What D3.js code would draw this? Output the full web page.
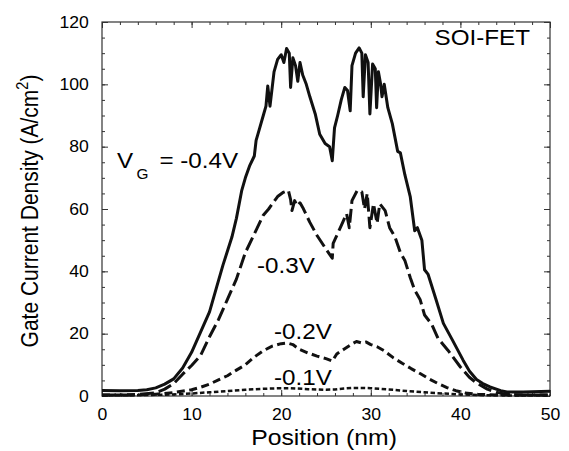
<!DOCTYPE html>
<html>
<head>
<meta charset="utf-8">
<script src="https://cdn.jsdelivr.net/npm/d3@7/dist/d3.min.js"></script>
<style>
  html, body { margin: 0; padding: 0; background: #fff; }
  svg { display: block; font-family: "Liberation Sans", Arial, Helvetica, sans-serif; }
</style>
</head>
<body>
<svg id="chart" width="569" height="451"></svg>
<script>
// Gate current density profiles along the channel of an SOI-FET
const xTicks = [0, 10, 20, 30, 40, 50];
const yTicks = [0, 20, 40, 60, 80, 100, 120];

// V_G = -0.4 V
const pos04 = [0, 2, 4, 5, 6, 7, 8, 9, 10, 11, 12, 12.8, 13.5, 14.5, 15, 15.6, 16, 16.5, 17, 17.2, 17.5, 18, 18.3, 18.5, 18.75, 19.2, 19.6, 20, 20.3, 20.6, 20.9, 21.05, 21.3, 21.6, 21.85, 22.1, 22.4, 22.8, 23.2, 23.8, 24.3, 24.9, 25.4, 25.7, 25.95, 26.3, 26.7, 27.1, 27.4, 27.7, 27.9, 28.3, 28.7, 29.0, 29.15, 29.4, 29.7, 29.9, 30.2, 30.5, 30.65, 30.85, 31.1, 31.25, 31.5, 31.9, 32.4, 33, 33.3, 33.8, 34.4, 34.9, 35.2, 35.7, 36, 36.4, 37.2, 38.1, 39.1, 40.3, 41, 41.8, 42.5, 43.3, 44.5, 45.2, 47, 50];
const val04 = [1.8, 1.7, 1.8, 2.0, 2.6, 3.8, 5.5, 9.0, 14, 20.5, 27, 35, 42, 51, 57, 66, 70, 74, 77, 82, 85, 90, 93, 99.5, 93, 104, 108, 109.5, 107, 111.5, 110, 99, 108.5, 106, 101, 107, 103, 100, 96, 90.5, 84, 81, 80, 75.5, 86, 90, 95, 99, 98, 91.5, 106, 110, 111.7, 110, 96, 109.5, 107, 90.5, 106.5, 105, 92.5, 104, 100, 96, 100, 92.5, 87.4, 78.5, 78, 71, 64, 53, 54, 50, 40.5, 39, 31.7, 23.3, 18, 11.5, 8, 5.3, 4, 2.9, 1.7, 1.3, 1.3, 1.5];

// V_G = -0.3 V
const pos03 = [0, 3, 6, 7, 8, 9, 10, 11, 12, 13, 14, 15, 16, 17, 18, 18.6, 19.1, 19.6, 20.2, 20.8, 21.05, 21.2, 21.5, 21.8, 22.1, 22.4, 23.2, 24, 25.1, 25.7, 25.8, 26.6, 27.3, 27.6, 27.9, 28.5, 29.0, 29.3, 29.6, 29.9, 30.3, 30.7, 31, 31.6, 32.1, 32.7, 33.3, 33.8, 34.4, 34.9, 35.5, 36, 36.8, 37.5, 38.6, 40, 41, 41.8, 43, 44, 45, 47, 50];
const val03 = [0.3, 0.3, 1.0, 2.2, 4.0, 7, 9.8, 13, 19, 24.5, 31, 37.5, 46, 52, 58, 60, 62, 64, 65.3, 66, 63, 59.5, 62.7, 61, 62, 60.5, 55.7, 51.5, 46.7, 44.2, 49, 54, 58.5, 54, 62.7, 66, 65.5, 60, 65, 54, 61.7, 55.4, 61.7, 59.5, 54, 51, 46, 43.5, 38, 34, 31, 26, 23, 18.5, 14.7, 9.3, 6, 4.2, 2.2, 1.2, 0.6, 0.3, 0.3];

// V_G = -0.2 V
const pos02 = [0, 4, 6, 8, 10, 11, 12, 13, 14, 15, 16, 17, 18, 19, 20, 20.7, 21.3, 22, 23, 24, 25, 25.7, 26.2, 27, 27.8, 28.4, 29, 29.5, 30, 30.7, 31.5, 32.5, 33.5, 34.5, 35.5, 36.5, 37.5, 38.5, 39.5, 40.5, 42, 45, 50];
const val02 = [0.3, 0.4, 0.6, 1.1, 2.0, 2.8, 3.8, 5.2, 6.5, 8.3, 10, 12.5, 14.5, 16, 16.8, 17, 16.5, 15, 13.8, 12.8, 12, 11.2, 13.5, 15, 16.5, 17.5, 17, 17.3, 16.5, 15.8, 14.5, 12.3, 10.5, 8.8, 7.2, 5.5, 4, 2.7, 1.7, 1.0, 0.5, 0.3, 0.3];

// V_G = -0.1 V
const pos01 = [0, 5, 8, 10, 12, 14, 16, 18, 20, 21, 23, 25, 26, 27, 28, 29, 30, 32, 34, 36, 38, 40, 42, 45, 50];
const val01 = [0.2, 0.3, 0.5, 0.8, 1.2, 1.6, 2.0, 2.3, 2.5, 2.5, 2.2, 2.0, 2.1, 2.4, 2.6, 2.6, 2.5, 2.1, 1.6, 1.2, 0.8, 0.5, 0.3, 0.2, 0.2];

const series = [
  { pos: pos04, val: val04, width: 3, dash: null },
  { pos: pos03, val: val03, width: 3, dash: "14,5" },
  { pos: pos02, val: val02, width: 3, dash: "8,4.5" },
  { pos: pos01, val: val01, width: 2.5, dash: "4.5,2.5" }
];

const svg = d3.select("#chart");
const plotL = 102, plotR = 550, plotT = 22, plotB = 396;
const stretch = 1.1; // glyphs are drawn slightly wide

const x = d3.scaleLinear().domain([0, 50]).range([plotL, plotR]);
const y = d3.scaleLinear().domain([0, 120]).range([plotB, plotT]);

const axisColor = "#333";
const axes = svg.append("g").attr("class", "axes");

function styleAxis(g) {
  g.select(".domain").remove();
  g.selectAll("line").attr("stroke", axisColor).attr("stroke-width", 1);
}

// Minor ticks (inside, all four sides)
axes.append("g").attr("transform", `translate(0,${plotB})`)
  .call(d3.axisBottom(x).tickValues(d3.range(0, 51, 2)).tickSize(-3).tickFormat(""))
  .call(styleAxis);
axes.append("g").attr("transform", `translate(0,${plotT})`)
  .call(d3.axisTop(x).tickValues(d3.range(0, 51, 2)).tickSize(-3).tickFormat(""))
  .call(styleAxis);
axes.append("g").attr("transform", `translate(${plotL},0)`)
  .call(d3.axisLeft(y).tickValues(d3.range(0, 121, 5)).tickSize(-3).tickFormat(""))
  .call(styleAxis);
axes.append("g").attr("transform", `translate(${plotR},0)`)
  .call(d3.axisRight(y).tickValues(d3.range(0, 121, 5)).tickSize(-3).tickFormat(""))
  .call(styleAxis);

// Major ticks with labels
const fontSize = 16;
axes.append("g").attr("transform", `translate(0,${plotB})`)
  .call(d3.axisBottom(x).tickValues(xTicks).tickSize(-6).tickPadding(13))
  .call(styleAxis)
  .call(g => g.selectAll("text").attr("font-size", fontSize).attr("fill", "#000")
    .attr("font-family", null).attr("transform", `scale(${stretch},1)`));
axes.append("g").attr("transform", `translate(0,${plotT})`)
  .call(d3.axisTop(x).tickValues(xTicks).tickSize(-6).tickFormat(""))
  .call(styleAxis);
axes.append("g").attr("transform", `translate(${plotL},0)`)
  .call(d3.axisLeft(y).tickValues(yTicks).tickSize(-6).tickPadding(12))
  .call(styleAxis)
  .call(g => g.selectAll("text").attr("font-size", fontSize).attr("fill", "#000")
    .attr("font-family", null).attr("transform", `scale(${stretch},1)`));
axes.append("g").attr("transform", `translate(${plotR},0)`)
  .call(d3.axisRight(y).tickValues(yTicks).tickSize(-6).tickFormat(""))
  .call(styleAxis);

// Frame
svg.append("rect")
  .attr("x", plotL).attr("y", plotT)
  .attr("width", plotR - plotL).attr("height", plotB - plotT)
  .attr("fill", "none").attr("stroke", axisColor).attr("stroke-width", 1.2);

// Curves
const line = d3.line().x(d => x(d[0])).y(d => y(d[1]));
series.forEach(s => {
  const pts = s.pos.map((p, i) => [p, s.val[i]]);
  svg.append("path")
    .datum(pts)
    .attr("d", line)
    .attr("fill", "none")
    .attr("stroke", "#111")
    .attr("stroke-width", s.width)
    .attr("stroke-linejoin", "round")
    .attr("stroke-dasharray", s.dash);
});

// Horizontal text placed with a slight horizontal stretch
function label(px, py, size, anchor) {
  return svg.append("text")
    .attr("transform", `translate(${px},${py}) scale(${stretch},1)`)
    .attr("text-anchor", anchor || "start")
    .attr("font-size", size);
}

// Axis titles
label((plotL + plotR) / 2 - 2, 445, 22.5, "middle").text("Position (nm)");

const yTitle = svg.append("text")
  .attr("transform", `translate(38,211) rotate(-90) scale(1,${stretch})`)
  .attr("text-anchor", "middle").attr("font-size", 21);
yTitle.append("tspan").text("Gate Current Density (A/cm");
yTitle.append("tspan").attr("font-size", 14.5).attr("dy", -9).text("2");
yTitle.append("tspan").attr("dy", 9).text(")");

// Annotations
label(530, 45, 22, "end").text("SOI-FET");

const vg = label(117, 168, 22);
vg.append("tspan").text("V");
vg.append("tspan").attr("font-size", 14).attr("dx", 3).attr("dy", 11).text("G");
vg.append("tspan").attr("dx", 10).attr("dy", -11).text("= -0.4V");

label(257, 273, 22).text("-0.3V");
label(274, 339, 22).text("-0.2V");
label(274, 385, 22).text("-0.1V");
</script>
</body>
</html>
